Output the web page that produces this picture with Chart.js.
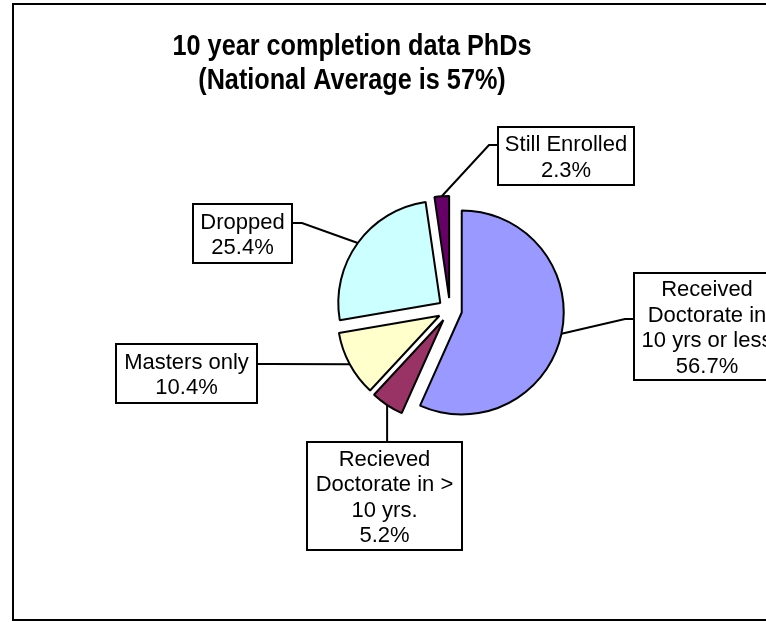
<!DOCTYPE html>
<html>
<head>
<meta charset="utf-8">
<title>10 year completion data PhDs</title>
<script src="https://cdn.jsdelivr.net/npm/chart.js@4.4.1/dist/chart.umd.min.js"></script>
<style>
  html, body { margin: 0; padding: 0; background: #fff; }
  #wrap { width: 766px; height: 622px; overflow: hidden; }
</style>
</head>
<body>
<div id="wrap"><canvas id="pieChart" width="766" height="622"></canvas></div>
<script>
// Data
const categories = [
    ['Received', 'Doctorate in', '10 yrs or less'],
    ['Recieved', 'Doctorate in >', '10 yrs.'],
    ['Masters only'],
    ['Dropped'],
    ['Still Enrolled']
];
const percentages = [56.7, 5.2, 10.4, 25.4, 2.3];
const sliceColors = ['#9999FF', '#993366', '#FFFFCC', '#CCFFFF', '#660066'];
const titleLines = ['10 year completion data PhDs', '(National Average is 57%)'];

// Label boxes (layout only): box rect and where the leader line meets it
const labelBoxes = [
    { x: 634, y: 273, w: 146, h: 107, side: 'left', at: 319 },
    { x: 307, y: 442, w: 155, h: 108, side: 'top' },
    { x: 116, y: 344, w: 141, h: 59, side: 'right', at: 364 },
    { x: 193, y: 204, w: 99, h: 59, side: 'right', at: 223 },
    { x: 498, y: 127, w: 136, h: 58, side: 'left', at: 145 }
];

const EXPLODE = 12;
const FONT = '"Liberation Sans", Arial, sans-serif';
const LINE_H = 25.5;

// Push every slice out along its own bisector (Excel style explode)
const explodePlugin = {
    id: 'explode',
    afterDatasetUpdate(chart, args) {
        args.meta.data.forEach(arc => {
            const mid = (arc.startAngle + arc.endAngle) / 2;
            arc.x += Math.cos(mid) * EXPLODE;
            arc.y += Math.sin(mid) * EXPLODE;
        });
    }
};

// Frame, title and data labels with leader lines
const decorPlugin = {
    id: 'decor',
    afterDraw(chart) {
        const ctx = chart.ctx;
        ctx.save();

        // outer frame
        ctx.strokeStyle = '#000';
        ctx.lineWidth = 2;
        ctx.strokeRect(13, 4, 800, 616);

        // title, a bit condensed like the original
        ctx.fillStyle = '#000';
        ctx.textAlign = 'center';
        ctx.textBaseline = 'middle';
        ctx.save();
        ctx.translate(352, 0);
        ctx.scale(0.87, 1);
        ctx.font = 'bold 29px ' + FONT;
        ctx.fillText(titleLines[0], 0, 47);
        ctx.fillText(titleLines[1], 0, 81);
        ctx.restore();

        const meta = chart.getDatasetMeta(0);
        meta.data.forEach((arc, i) => {
            const box = labelBoxes[i];
            const mid = (arc.startAngle + arc.endAngle) / 2;
            const ax = arc.x + Math.cos(mid) * arc.outerRadius;
            const ay = arc.y + Math.sin(mid) * arc.outerRadius;

            let px, py, ex, ey;
            if (box.side === 'left') {
                px = box.x; py = box.at; ex = px - 9; ey = py;
            } else if (box.side === 'right') {
                px = box.x + box.w; py = box.at; ex = px + 10; ey = py;
            } else {
                px = ax; py = box.y; ex = px; ey = py;
            }

            // leader line
            ctx.beginPath();
            ctx.moveTo(ax, ay);
            ctx.lineTo(ex, ey);
            ctx.lineTo(px, py);
            ctx.lineWidth = 2;
            ctx.stroke();

            // box
            ctx.fillStyle = '#fff';
            ctx.fillRect(box.x, box.y, box.w, box.h);
            ctx.strokeRect(box.x, box.y, box.w, box.h);

            // text
            const lines = categories[i].concat([percentages[i].toFixed(1) + '%']);
            ctx.fillStyle = '#000';
            ctx.font = '22px ' + FONT;
            const cx = box.x + box.w / 2;
            const cy = box.y + box.h / 2 + 2;
            lines.forEach((t, k) => {
                ctx.fillText(t, cx, cy + (k - (lines.length - 1) / 2) * LINE_H);
            });
        });

        ctx.restore();
    }
};

const ctx = document.getElementById('pieChart').getContext('2d');
new Chart(ctx, {
    type: 'pie',
    data: {
        labels: categories.map(c => c.join(' ')),
        datasets: [{
            data: percentages,
            backgroundColor: sliceColors,
            borderColor: '#000',
            borderWidth: 2,
            hoverOffset: 0
        }]
    },
    options: {
        responsive: false,
        animation: false,
        devicePixelRatio: 1,
        radius: 102,
        events: [],
        layout: { padding: { left: 134, right: 0, top: 0, bottom: 2 } },
        plugins: {
            legend: { display: false },
            tooltip: { enabled: false },
            title: { display: false }
        }
    },
    plugins: [explodePlugin, decorPlugin]
});
</script>
</body>
</html>
